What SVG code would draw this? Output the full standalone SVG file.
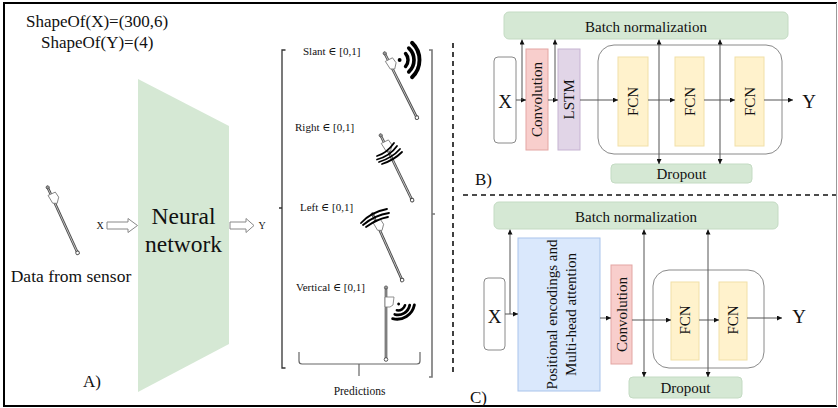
<svg xmlns="http://www.w3.org/2000/svg" xmlns:xlink="http://www.w3.org/1999/xlink" width="838" height="408" viewBox="0 0 838 408">
  <style>
    text { font-family: "Liberation Serif", "DejaVu Serif", serif; fill: #111; }
    .lbl { font-size: 15px; }
    .io { font-size: 19px; }
    .tag { font-size: 17px; }
    .pred { font-size: 11px; }
    .green { fill: #d5e8d4; stroke: #c4dbc3; stroke-width: 1; }
    .conv { fill: #f8cecc; stroke: #e3a6a3; stroke-width: 1; }
    .lstm { fill: #e1d5e7; stroke: #c6b3d2; stroke-width: 1; }
    .fcn { fill: #fff2cc; stroke: #f1e0a8; stroke-width: 1; }
    .attn { fill: #dae8fc; stroke: #a9c4eb; stroke-width: 1; }
    .inbox { fill: #fff; stroke: #8a8a8a; stroke-width: 1; }
    .group { fill: none; stroke: #8a8a8a; stroke-width: 1; }
    .conn { stroke: #555; stroke-width: 1; fill: none; }
    .one { marker-end: url(#tip); }
    .both { marker-start: url(#tip); marker-end: url(#tip); }
    .dash { stroke: #111; stroke-width: 1.6; stroke-dasharray: 5 4; fill: none; }
    .wave { fill: none; stroke: #000; stroke-linecap: round; }
    .hollow { fill: #fff; stroke: #888; stroke-width: 1; }
  </style>
  <defs>
    <marker id="tip" viewBox="0 0 6 6" refX="6" refY="3" markerWidth="5" markerHeight="5" markerUnits="userSpaceOnUse" orient="auto-start-reverse">
      <path d="M0,0 L6,3 L0,6 Z" fill="#111"/>
    </marker>
    <!-- handheld sensor rod, drawn pointing down from its tip at the origin -->
    <g id="sensor">
      <line x1="0" y1="2" x2="0" y2="72" stroke="#444" stroke-width="2.6"/>
      <line x1="0" y1="2" x2="0" y2="72" stroke="#c8c8c8" stroke-width="0.9"/>
      <circle cx="0" cy="73.5" r="1.8" fill="#fff" stroke="#444" stroke-width="0.9"/>
      <circle cx="0" cy="1.5" r="1.6" fill="#999" stroke="#444" stroke-width="0.7"/>
      <path d="M-3,9 L5,9 L6,15 L2,20 L-2,18 Z" fill="#fff" stroke="#777" stroke-width="0.8"/>
    </g>
    <!-- three-arc signal symbol, opening towards +x -->
    <g id="signal">
      <circle cx="1.5" cy="0" r="1.8" fill="#000"/>
      <path class="wave" stroke-width="3.2" d="M7,-6 A9,9 0 0 1 7,6"/>
      <path class="wave" stroke-width="3.4" d="M10,-11 A15,15 0 0 1 10,11"/>
      <path class="wave" stroke-width="3.6" d="M13,-16 A22,22 0 0 1 13,16"/>
    </g>
  </defs>

  <rect x="0" y="0" width="838" height="408" fill="#fff"/>

  <!-- outer frame -->
  <path d="M4,406 L4,3 L837,3" fill="none" stroke="#000" stroke-width="2"/>
  <line x1="3" y1="406" x2="837" y2="406" stroke="#000" stroke-width="2"/>
  <line x1="836.5" y1="3" x2="836.5" y2="406" stroke="#999" stroke-width="1"/>

  <!-- section separators -->
  <line class="dash" x1="453" y1="43" x2="453" y2="372"/>
  <line class="dash" x1="463" y1="195" x2="836" y2="195"/>

  <!-- ===== Panel A: overview ===== -->
  <g id="shapes">
    <text x="26" y="27" style="font-size:17px">ShapeOf(X)=(300,6)</text>
    <text x="41" y="48" style="font-size:17px">ShapeOf(Y)=(4)</text>
  </g>

  <g id="sensor-input">
    <use xlink:href="#sensor" transform="translate(47,186) rotate(-24.6)"/>
    <text x="71" y="282" text-anchor="middle" style="font-size:17.5px">Data from sensor</text>
  </g>

  <g id="neural-network">
    <polygon points="138,79 229,126 229,344 138,392" fill="#d5e8d4"/>
    <text x="183.5" y="224" text-anchor="middle" style="font-size:23.5px">Neural</text>
    <text x="183.5" y="252" text-anchor="middle" style="font-size:23.5px">network</text>
  </g>

  <g id="input-arrow">
    <text x="100" y="229" text-anchor="middle" style="font-size:10px">X</text>
    <path class="hollow" d="M107,222 L128,222 L128,218.5 L137.5,225.5 L128,232.5 L128,229 L107,229 Z"/>
  </g>
  <g id="output-arrow">
    <path class="hollow" d="M230,222 L246,222 L246,218.5 L254,225.5 L246,232.5 L246,229 L230,229 Z"/>
    <text x="262" y="229" text-anchor="middle" style="font-size:10px">Y</text>
  </g>

  <text class="tag" x="83" y="387">A)</text>

  <!-- prediction vector -->
  <g id="predictions">
    <path d="M285.5,50 L282,50 L282,208 L279,208 M282,208 L282,368 L285.5,368" fill="none" stroke="#333" stroke-width="1.3"/>
    <path d="M429,50 L432,50 L432,214 L435,214 M432,214 L432,377 L429,377" fill="none" stroke="#777" stroke-width="1.6"/>

    <text class="pred" x="303" y="55">Slant ∈ [0,1]</text>
    <use xlink:href="#sensor" transform="translate(384,52) rotate(-26.6)"/>
    <use xlink:href="#signal" transform="translate(398,60) scale(1.08)"/>

    <text class="pred" x="295" y="131">Right ∈ [0,1]</text>
    <use xlink:href="#sensor" transform="translate(380,134) rotate(-25.9)"/>
    <g class="wave" stroke-width="1.8">
      <path d="M377,156 Q387,153 394,143"/>
      <path d="M377,159.5 Q390,156 397,146"/>
      <path d="M379,162 Q392,158 400,149"/>
      <path d="M382,164 Q394,160 402,152"/>
    </g>

    <text class="pred" x="300" y="211">Left ∈ [0,1]</text>
    <use xlink:href="#sensor" transform="translate(372,213) rotate(-24.2)"/>
    <g class="wave" stroke-width="1.8">
      <path d="M361,223 Q371,212 387,209"/>
      <path d="M363,225 Q375,215 389,213"/>
      <path d="M366,227 Q377,219 388,217"/>
    </g>

    <text class="pred" x="296" y="291">Vertical ∈ [0,1]</text>
    <g transform="translate(386,286)">
      <line x1="0" y1="2" x2="0" y2="72" stroke="#444" stroke-width="2.6"/>
      <line x1="0" y1="2" x2="0" y2="72" stroke="#c8c8c8" stroke-width="0.9"/>
      <circle cx="0" cy="73.5" r="1.8" fill="#fff" stroke="#444" stroke-width="0.9"/>
      <circle cx="0" cy="1.5" r="1.6" fill="#999" stroke="#444" stroke-width="0.7"/>
      <path d="M-1,11 L8,11 L7,19 L4,21 L-1,21 Z" fill="#fff" stroke="#777" stroke-width="0.8"/>
    </g>
    <use xlink:href="#signal" transform="translate(398,303) rotate(58) scale(0.8)"/>

    <path d="M299,352 L299,361 Q299,364 302,364 L417,364 Q420,364 420,361 L420,352 M359,364 L359,376" fill="none" stroke="#666" stroke-width="1.2"/>
    <text x="359.5" y="395" text-anchor="middle" style="font-size:11.5px">Predictions</text>
  </g>

  <!-- ===== Panel B: CNN + LSTM model ===== -->
  <g id="b-batchnorm">
    <rect class="green" x="504" y="12" width="284" height="27" rx="5"/>
    <text class="lbl" x="646" y="32" text-anchor="middle">Batch normalization</text>
  </g>
  <g id="b-input">
    <rect class="inbox" x="494" y="57" width="22" height="86" rx="4"/>
    <text class="io" x="505" y="108" text-anchor="middle">X</text>
  </g>
  <g id="b-conv">
    <rect class="conv" x="526" y="49" width="22" height="101"/>
    <text class="lbl" transform="translate(542,99.5) rotate(-90)" text-anchor="middle">Convolution</text>
  </g>
  <g id="b-lstm">
    <rect class="lstm" x="558" y="49" width="22" height="101"/>
    <text class="lbl" transform="translate(574,99.5) rotate(-90)" text-anchor="middle">LSTM</text>
  </g>
  <g id="b-dense">
    <rect class="group" x="598" y="45" width="184" height="109" rx="16"/>
  </g>
  <g id="b-fcn1">
    <rect class="fcn" x="618" y="57" width="30" height="89"/>
    <text class="lbl" transform="translate(638,101.5) rotate(-90)" text-anchor="middle">FCN</text>
  </g>
  <g id="b-fcn2">
    <rect class="fcn" x="675" y="57" width="29" height="89"/>
    <text class="lbl" transform="translate(694.5,101.5) rotate(-90)" text-anchor="middle">FCN</text>
  </g>
  <g id="b-fcn3">
    <rect class="fcn" x="735" y="57" width="29" height="89"/>
    <text class="lbl" transform="translate(754.5,101.5) rotate(-90)" text-anchor="middle">FCN</text>
  </g>
  <g id="b-output">
    <text class="io" x="809" y="108" text-anchor="middle">Y</text>
  </g>
  <g id="b-dropout">
    <rect class="green" x="611" y="164" width="141" height="19" rx="4"/>
    <text class="lbl" x="681.5" y="179" text-anchor="middle">Dropout</text>
  </g>
  <text class="tag" x="475" y="185">B)</text>

  <g id="b-connectors">
    <line class="conn one" x1="516" y1="100" x2="526" y2="100"/>
    <line class="conn one" x1="522" y1="100" x2="522" y2="39.5"/>
    <line class="conn one" x1="548" y1="100" x2="558" y2="100"/>
    <line class="conn one" x1="555" y1="100" x2="555" y2="39.5"/>
    <line class="conn one" x1="580" y1="100" x2="618" y2="100" stroke-width="1.4" stroke="#888"/>
    <line class="conn one" x1="648" y1="100" x2="675" y2="100"/>
    <line class="conn one" x1="704" y1="100" x2="735" y2="100"/>
    <line class="conn one" x1="764" y1="100" x2="793" y2="100"/>
    <line class="conn both" x1="659" y1="39.5" x2="659" y2="164"/>
    <line class="conn both" x1="720" y1="39.5" x2="720" y2="164"/>
  </g>

  <!-- ===== Panel C: attention + CNN model ===== -->
  <g id="c-batchnorm">
    <rect class="green" x="494" y="202" width="284" height="27" rx="5"/>
    <text class="lbl" x="636" y="222" text-anchor="middle">Batch normalization</text>
  </g>
  <g id="c-input">
    <rect class="inbox" x="484" y="278" width="21" height="72" rx="4"/>
    <text class="io" x="494.5" y="323" text-anchor="middle">X</text>
  </g>
  <g id="c-attention">
    <rect class="attn" x="518" y="238" width="82" height="153"/>
    <text class="lbl" transform="translate(557,314.5) rotate(-90)" text-anchor="middle">Positional encodings and</text>
    <text class="lbl" transform="translate(576,314.5) rotate(-90)" text-anchor="middle">Multi-head attention</text>
  </g>
  <g id="c-conv">
    <rect class="conv" x="611" y="265" width="21" height="99"/>
    <text class="lbl" transform="translate(626.5,314.5) rotate(-90)" text-anchor="middle">Convolution</text>
  </g>
  <g id="c-dense">
    <rect class="group" x="653" y="270" width="111" height="98" rx="16"/>
  </g>
  <g id="c-fcn1">
    <rect class="fcn" x="671" y="282" width="28" height="78"/>
    <text class="lbl" transform="translate(690,320) rotate(-90)" text-anchor="middle">FCN</text>
  </g>
  <g id="c-fcn2">
    <rect class="fcn" x="719" y="282" width="28" height="78"/>
    <text class="lbl" transform="translate(738,320) rotate(-90)" text-anchor="middle">FCN</text>
  </g>
  <g id="c-output">
    <text class="io" x="799" y="323" text-anchor="middle">Y</text>
  </g>
  <g id="c-dropout">
    <rect class="green" x="629" y="377" width="113" height="21" rx="4"/>
    <text class="lbl" x="685.5" y="393" text-anchor="middle">Dropout</text>
  </g>
  <text class="tag" x="470" y="403">C)</text>

  <g id="c-connectors">
    <line class="conn one" x1="505" y1="314" x2="518" y2="314"/>
    <line class="conn one" x1="510" y1="314" x2="510" y2="229.5"/>
    <line class="conn one" x1="600" y1="318" x2="611" y2="318"/>
    <line class="conn one" x1="632" y1="320" x2="671" y2="320" stroke-width="1.4" stroke="#888"/>
    <line class="conn one" x1="699" y1="320" x2="719" y2="320"/>
    <line class="conn one" x1="747" y1="318" x2="782" y2="318"/>
    <line class="conn both" x1="644" y1="229.5" x2="644" y2="377"/>
    <line class="conn both" x1="708" y1="229.5" x2="708" y2="377"/>
  </g>
</svg>
